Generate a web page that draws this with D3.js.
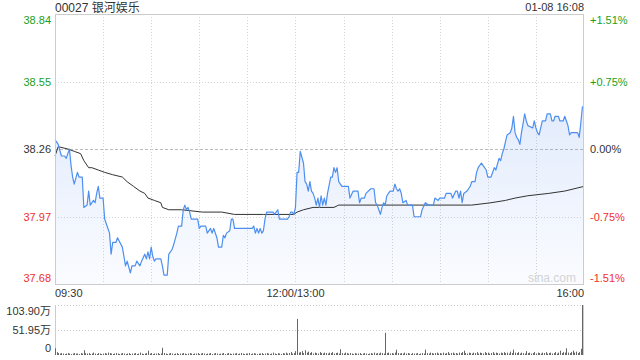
<!DOCTYPE html>
<html>
<head>
<meta charset="utf-8">
<script src="https://cdn.jsdelivr.net/npm/d3@7"></script>
<style>
  body { margin: 0; background: #fff; }
  text { font-family: "Liberation Sans", Arial, "Noto Sans CJK SC", sans-serif; }
</style>
</head>
<body>
<svg id="chart" width="640" height="360"></svg>
<script>
const title = '00027 银河娱乐';
const stamp = '01-08 16:08';
const prevClose = 38.26;
const pctRange = 0.0151;

const leftTicks = ['38.84', '38.55', '38.26', '37.97', '37.68'];
const rightTicks = ['+1.51%', '+0.75%', '0.00%', '-0.75%', '-1.51%'];
const timeTicks = ['09:30', '12:00/13:00', '16:00'];
const volTicks = ['103.90万', '51.95万', '0'];

// trading minutes since 09:30 (12:00 and 13:00 share minute 150)
const priceMin = [0,2,4,6,7,9,10,11,12,14,15,17,18,20,21,22,24,25,26,27,28,30,31,32,34,35,36,38,39,42,
  43,44,45,47,48,50,51,53,54,56,57,58,59,60,61,62,63,66,67,68,70,71,73,74,76,77,79,80,81,82,
  83,84,85,89,90,91,92,94,95,97,98,99,101,102,104,105,106,107,109,110,111,112,123,124,125,126,127,128,129,130,
  131,132,136,137,139,140,145,146,147,148,149,150,151,152,153,155,156,157,158,159,160,161,162,163,164,165,
  166,167,168,169,170,172,173,174,175,176,177,178,179,183,184,186,189,190,191,193,194,197,199,200,
  201,202,203,204,205,206,207,209,211,212,213,214,215,216,217,219,220,223,224,228,229,231,233,236,
  237,239,240,243,244,247,248,250,251,252,253,254,255,257,258,259,260,262,263,264,266,267,269,270,
  272,273,274,275,277,278,279,280,281,282,284,285,286,287,288,289,290,291,292,293,294,295,298,299,
  300,301,302,303,304,306,307,309,310,311,312,314,315,317,318,319,320,321,322,326,327,328,329,330];
const priceVal = [38.30,38.28,38.23,38.23,38.22,38.26,38.19,38.14,38.11,38.16,38.14,38.14,38.01,38.02,38.08,38.02,38.04,38.03,38.07,38.10,38.05,38.05,37.96,37.94,37.90,37.81,37.86,37.86,37.88,37.84,
  37.80,37.76,37.78,37.73,37.76,37.76,37.78,37.76,37.78,37.81,37.79,37.82,37.79,37.84,37.80,37.78,37.79,37.79,37.76,37.72,37.72,37.81,37.83,37.85,37.90,37.93,37.93,38.00,38.02,38.00,
  38.01,37.99,37.96,37.96,37.92,37.93,37.93,37.93,37.90,37.92,37.90,37.92,37.88,37.84,37.84,37.89,37.88,37.90,37.91,37.96,37.96,37.92,37.92,37.93,37.90,37.92,37.90,37.92,37.90,37.91,
  37.96,37.99,37.99,37.98,38.00,37.96,37.96,37.97,37.99,37.99,37.98,38.01,38.16,38.16,38.25,38.20,38.12,38.11,38.08,38.12,38.08,38.07,38.05,38.02,38.05,38.01,
  38.06,38.02,38.05,38.02,38.07,38.14,38.14,38.18,38.16,38.18,38.12,38.11,38.10,38.10,38.05,38.08,38.08,38.03,38.05,38.05,38.07,38.09,38.09,38.03,
  38.02,38.00,37.98,38.01,38.03,38.02,38.06,38.08,38.08,38.11,38.09,38.08,38.09,38.07,38.03,38.04,38.02,38.02,37.97,37.97,38.00,38.03,38.02,38.02,
  38.05,38.04,38.05,38.05,38.07,38.07,38.05,38.08,38.08,38.05,38.08,38.03,38.07,38.08,38.09,38.10,38.12,38.12,38.16,38.18,38.20,38.19,38.17,38.14,
  38.14,38.16,38.18,38.17,38.22,38.21,38.24,38.26,38.29,38.32,38.33,38.35,38.40,38.33,38.31,38.30,38.28,38.33,38.37,38.41,38.38,38.36,38.35,38.38,
  38.35,38.33,38.32,38.35,38.38,38.38,38.41,38.41,38.38,38.38,38.40,38.40,38.38,38.38,38.40,38.38,38.36,38.32,38.33,38.33,38.31,38.37,38.44,38.44];

const avgMin = [0,2,8,12,16,18,21,23,27,31,36,42,45,49,53,56,58,62,66,67,71,79,92,104,112,130,149,151,155,161,174,177,192,221,260,272,281,287,295,308,318,330];
const avgVal = [38.23,38.27,38.26,38.25,38.24,38.21,38.18,38.18,38.17,38.16,38.15,38.14,38.12,38.10,38.08,38.07,38.05,38.04,38.03,38.01,38.00,38.00,37.99,37.99,37.98,37.98,37.98,37.99,38.00,38.01,38.01,38.02,38.02,38.02,38.02,38.03,38.04,38.05,38.06,38.07,38.08,38.10];

// volume per minute, in 万 shares
const volume = [
  14,6,4,3,4,3,2,3,4,3,2,3,4,3,3,2,4,3,10,4,
  3,4,2,3,5,3,2,4,3,2,3,4,3,5,4,3,2,3,4,3,
  2,3,4,3,2,3,4,2,3,3,4,2,3,5,3,2,3,4,9,3,
  4,2,3,3,4,2,3,15,4,3,2,3,4,3,2,3,4,2,3,3,
  4,3,2,3,4,3,2,3,3,4,2,3,4,3,2,3,3,4,2,3,
  4,3,2,3,3,4,2,3,4,3,2,3,3,4,2,3,4,3,2,3,
  3,4,2,3,4,3,2,3,3,4,2,3,4,3,2,3,5,3,2,4,
  3,2,4,3,5,3,4,6,3,4,8,75,5,6,8,4,10,5,7,4,
  6,3,5,4,3,6,4,3,5,4,3,5,4,6,3,4,5,3,12,4,
  3,5,4,3,4,3,2,4,3,3,4,2,3,4,3,2,3,4,3,5,
  3,4,3,5,4,3,46,4,5,3,4,3,5,11,4,3,4,3,5,3,
  4,3,2,4,3,3,4,2,3,4,3,11,4,3,5,4,3,4,5,3,
  4,3,5,3,4,6,3,4,5,3,4,3,5,4,6,9,4,3,5,4,
  3,5,4,6,3,5,4,3,6,4,5,3,4,6,3,5,4,3,5,4,
  6,4,5,3,7,4,11,5,4,6,3,5,4,3,8,4,5,3,4,6,
  3,5,4,3,5,4,6,3,4,5,3,4,6,3,5,9,4,6,5,14,
  5,4,6,9,5,7,4,6,13,5,
  103.9
];

const svg = d3.select('#chart');
const pLeft = 55, pRight = 584, pTop = 14, pBottom = 284;
const volTop = 305, volBottom = 355;

const x = d3.scaleLinear().domain([0, 330]).range([pLeft, pRight]);
const y = d3.scaleLinear()
  .domain([prevClose * (1 - pctRange), prevClose * (1 + pctRange)])
  .range([pBottom, pTop]);
const yv = d3.scaleLinear().domain([0, 103.9]).range([volBottom, volTop]);

const green = '#1a9f1a', red = '#f0302a', dark = '#333';
const tickColor = i => (i < 2 ? green : i === 2 ? dark : red);

// gradient for area
const defs = svg.append('defs');
const grad = defs.append('linearGradient')
  .attr('id', 'fillGrad')
  .attr('gradientUnits', 'userSpaceOnUse')
  .attr('x1', 0).attr('x2', 0).attr('y1', pTop).attr('y2', pBottom);
grad.append('stop').attr('offset', 0).attr('stop-color', '#5b8ff0').attr('stop-opacity', 0.25);
grad.append('stop').attr('offset', 1).attr('stop-color', '#5b8ff0').attr('stop-opacity', 0.03);

// grid
const gridVals = d3.range(5).map(i => y.domain()[1] - (i * (y.domain()[1] - y.domain()[0])) / 4);
svg.append('g')
  .selectAll('line')
  .data(gridVals.slice(1, 4))
  .enter()
  .append('line')
  .attr('x1', pLeft).attr('x2', pRight)
  .attr('y1', d => Math.round(y(d)) + 0.5).attr('y2', d => Math.round(y(d)) + 0.5)
  .attr('stroke', (d, i) => (i === 1 ? '#bbb' : '#d4d4d4'))
  .attr('stroke-dasharray', (d, i) => (i === 1 ? '3,2' : '1,2'));

svg.append('g')
  .selectAll('line')
  .data(d3.range(30, 330, 30))
  .enter()
  .append('line')
  .attr('x1', d => Math.round(x(d)) + 0.5).attr('x2', d => Math.round(x(d)) + 0.5)
  .attr('y1', pTop).attr('y2', pBottom)
  .attr('stroke', '#d4d4d4')
  .attr('stroke-dasharray', '1,2');

// watermark
svg.append('text')
  .attr('x', 552).attr('y', 282)
  .attr('text-anchor', 'middle')
  .attr('font-size', 12)
  .attr('fill', '#d6d6d6')
  .text('sina.com');

const pts = priceMin.map((m, i) => [m, priceVal[i]]);
const avgPts = avgMin.map((m, i) => [m, avgVal[i]]);

svg.append('path')
  .datum(pts)
  .attr('fill', 'url(#fillGrad)')
  .attr('d', d3.area().x(d => x(d[0])).y0(pBottom).y1(d => y(d[1])));

svg.append('path')
  .datum(avgPts)
  .attr('fill', 'none')
  .attr('stroke', '#333')
  .attr('stroke-width', 1)
  .attr('d', d3.line().x(d => x(d[0])).y(d => y(d[1])));

svg.append('path')
  .datum(pts)
  .attr('fill', 'none')
  .attr('stroke', '#4d8ff0')
  .attr('stroke-width', 1.2)
  .attr('stroke-linejoin', 'round')
  .attr('d', d3.line().x(d => x(d[0])).y(d => y(d[1])));

// frame
svg.append('rect')
  .attr('x', pLeft + 0.5).attr('y', pTop + 0.5)
  .attr('width', pRight - pLeft - 1).attr('height', pBottom - pTop)
  .attr('fill', 'none')
  .attr('stroke', '#ccc');

// price labels
svg.append('g')
  .selectAll('text')
  .data(leftTicks)
  .enter()
  .append('text')
  .attr('x', 51)
  .attr('y', (d, i) => Math.min(Math.max(y(gridVals[i]) + 4, pTop + 10), pBottom - 2))
  .attr('text-anchor', 'end')
  .attr('font-size', 11)
  .attr('fill', (d, i) => tickColor(i))
  .text(d => d);

svg.append('g')
  .selectAll('text')
  .data(rightTicks)
  .enter()
  .append('text')
  .attr('x', 590)
  .attr('y', (d, i) => Math.min(Math.max(y(gridVals[i]) + 4, pTop + 10), pBottom - 2))
  .attr('font-size', 11)
  .attr('fill', (d, i) => tickColor(i))
  .text(d => d);

// time labels
svg.append('g')
  .selectAll('text')
  .data(timeTicks)
  .enter()
  .append('text')
  .attr('x', (d, i) => [pLeft, x(150), pRight][i])
  .attr('y', 297)
  .attr('text-anchor', (d, i) => ['start', 'middle', 'end'][i])
  .attr('font-size', 11)
  .attr('fill', dark)
  .text(d => d);

// title and stamp
svg.append('text')
  .attr('x', pLeft).attr('y', 12)
  .attr('font-size', 12)
  .attr('fill', dark)
  .text(title);
svg.append('text')
  .attr('x', pRight).attr('y', 11)
  .attr('text-anchor', 'end')
  .attr('font-size', 11)
  .attr('fill', dark)
  .text(stamp);

// volume panel
svg.append('g')
  .selectAll('line')
  .data([103.9, 51.95])
  .enter()
  .append('line')
  .attr('x1', pLeft).attr('x2', pRight)
  .attr('y1', d => Math.round(yv(d)) + 0.5).attr('y2', d => Math.round(yv(d)) + 0.5)
  .attr('stroke', '#ccc')
  .attr('stroke-dasharray', '1,2');

svg.append('line')
  .attr('x1', pLeft + 0.5).attr('x2', pLeft + 0.5)
  .attr('y1', volTop).attr('y2', volBottom)
  .attr('stroke', '#ccc');
svg.append('line')
  .attr('x1', pRight - 0.5).attr('x2', pRight - 0.5)
  .attr('y1', volTop).attr('y2', volBottom)
  .attr('stroke', '#ccc');

svg.append('g')
  .selectAll('rect')
  .data(volume)
  .enter()
  .append('rect')
  .attr('x', (d, i) => Math.min(Math.round(x(i)), pRight - 2))
  .attr('y', d => yv(d))
  .attr('width', 1)
  .attr('height', d => volBottom - yv(d))
  .attr('fill', '#666');

svg.append('g')
  .selectAll('text')
  .data(volTicks)
  .enter()
  .append('text')
  .attr('x', 51)
  .attr('y', (d, i) => [315, 334, 352][i])
  .attr('text-anchor', 'end')
  .attr('font-size', 11)
  .attr('fill', dark)
  .text(d => d);
</script>
</body>
</html>
